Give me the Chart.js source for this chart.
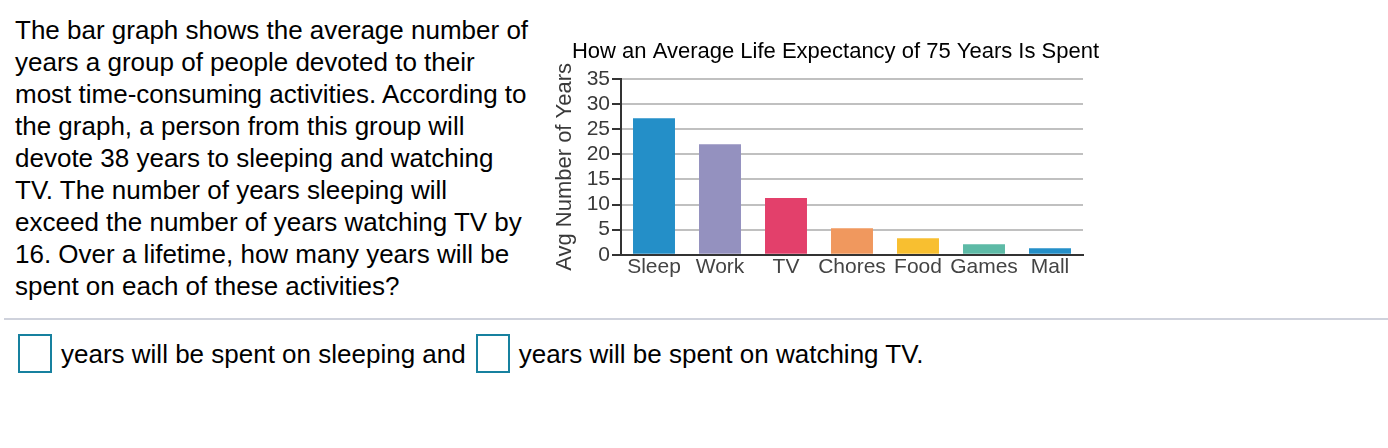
<!DOCTYPE html>
<html>
<head>
<meta charset="utf-8">
<script src="https://cdn.jsdelivr.net/npm/chart.js@4"></script>
<style>
  html, body { margin: 0; padding: 0; background: #fff; }
  body { width: 1388px; height: 448px; position: relative; overflow: hidden;
         font-family: "Liberation Sans", Arial, Helvetica, sans-serif; color: #000; }
  #question { position: absolute; left: 15px; top: 14px; font-size: 26px; line-height: 32px; }
  #rule { position: absolute; left: 4px; right: 0; top: 318px; height: 2px; background: #cfd2dc; }
  #answer { position: absolute; left: 18px; top: 334px; display: flex; align-items: center;
            font-size: 26px; line-height: 32px; }
  .box { width: 30px; height: 35px; border: 2px solid #17819f; }
  .txt { margin: 0 10px 0 9px; }
  #chartBox { position: absolute; left: 545px; top: 30px; width: 581px; height: 250px; }
</style>
</head>
<body>
<div id="question">The bar graph shows the average number of<br>years a group of people devoted to their<br>most time-consuming activities. According to<br>the graph, a person from this group will<br>devote 38 years to sleeping and watching<br>TV. The number of years sleeping will<br>exceed the number of years watching TV by<br>16. Over a lifetime, how many years will be<br>spent on each of these activities?</div>
<div id="rule"></div>
<div id="answer">
  <div class="box"></div><span class="txt">years will be spent on sleeping and</span>
  <div class="box"></div><span class="txt">years will be spent on watching TV.</span>
</div>
<div id="chartBox"><canvas id="lifeChart"></canvas></div>
<script>
const activities = ['Sleep', 'Work', 'TV', 'Chores', 'Food', 'Games', 'Mall'];
const avgYears = [27.2, 22, 11.3, 5.3, 3.3, 2.1, 1.3];
const barColors = ['#248fc8', '#9491bf', '#e3406b', '#f0985e', '#f8bf30', '#5dbaa6', '#248fc8'];
const yTicks = [0, 5, 10, 15, 20, 25, 30, 35];

const fontFamily = '"Liberation Sans", Arial, Helvetica, sans-serif';

const ctx = document.getElementById('lifeChart').getContext('2d');
new Chart(ctx, {
  type: 'bar',
  data: {
    labels: activities,
    datasets: [{
      data: avgYears,
      backgroundColor: barColors,
      borderWidth: 0,
      barPercentage: 0.636,
      categoryPercentage: 1
    }]
  },
  options: {
    responsive: true,
    maintainAspectRatio: false,
    animation: false,
    devicePixelRatio: 1,
    layout: { padding: 0 },
    plugins: {
      legend: { display: false },
      tooltip: { enabled: false },
      title: {
        display: true,
        text: 'How an Average Life Expectancy of 75 Years Is Spent',
        color: '#000',
        font: { family: fontFamily, size: 22, weight: 'normal', lineHeight: 1.2 },
        padding: { top: 9, bottom: 13.6 }
      }
    },
    scales: {
      x: {
        grid: { display: false, drawTicks: false },
        border: { display: true, color: '#333', width: 2 },
        ticks: {
          color: '#444',
          padding: 0,
          autoSkip: false,
          maxRotation: 0,
          minRotation: 0,
          font: { family: fontFamily, size: 21, lineHeight: 1.2 }
        }
      },
      y: {
        min: 0,
        max: 35,
        afterFit: (scale) => { scale.width = 76; },
        afterBuildTicks: (scale) => { scale.ticks = yTicks.map(v => ({ value: v })); },
        grid: {
          color: '#c0c0c0',
          lineWidth: 2,
          drawTicks: true,
          tickLength: 9,
          tickColor: '#333',
          tickWidth: 2
        },
        border: { display: true, color: '#333', width: 2 },
        ticks: {
          color: '#3a3a3a',
          padding: 2,
          autoSkip: false,
          font: { family: fontFamily, size: 21, lineHeight: 1.2 }
        },
        title: {
          display: true,
          text: 'Avg Number of Years',
          color: '#3a3a3a',
          padding: { top: 7, bottom: 0 },
          font: { family: fontFamily, size: 22, lineHeight: 1.2 }
        }
      },
      // empty right-hand axis: reserves the space to the right of the plot
      spacer: {
        type: 'linear',
        position: 'right',
        afterFit: (scale) => { scale.width = 43; },
        grid: { display: false, drawTicks: false },
        border: { display: false },
        ticks: { display: false }
      }
    }
  }
});
</script>
</body>
</html>
